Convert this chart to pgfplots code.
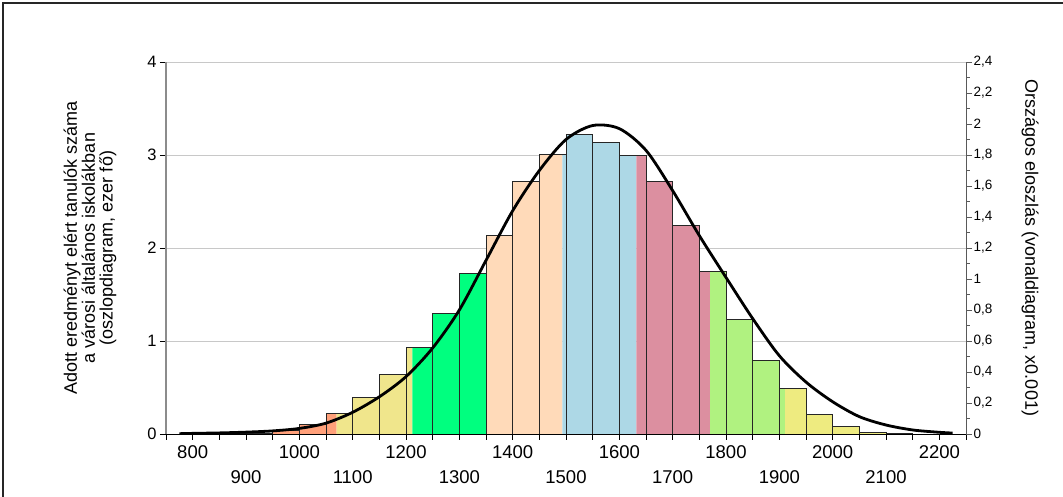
\documentclass[border=0pt]{standalone}
\usepackage{fontspec}
\setmainfont{Liberation Sans}
\usepackage{pgfplots}
\usepackage{pgfplotstable}
\pgfplotsset{compat=1.18}
\usetikzlibrary{calc}

\definecolor{cSalmon}{RGB}{255,160,122}
\definecolor{cKhaki}{RGB}{240,230,140}
\definecolor{cGreen}{RGB}{0,255,127}
\definecolor{cPeach}{RGB}{255,218,185}
\definecolor{cBlue}{RGB}{173,216,230}
\definecolor{cPink}{RGB}{220,143,160}
\definecolor{cLime}{RGB}{176,242,128}
\definecolor{cYellow}{RGB}{238,235,128}
\definecolor{cGrid}{RGB}{200,200,200}

% bar centres (50 points wide), thousand pupils
\pgfplotstableread{
x y
825 0.003
875 0.005
925 0.008
975 0.035
1025 0.10
1075 0.22
1125 0.39
1175 0.64
1225 0.93
1275 1.30
1325 1.73
1375 2.13
1425 2.72
1475 3.01
1525 3.22
1575 3.13
1625 2.99
1675 2.72
1725 2.24
1775 1.75
1825 1.23
1875 0.79
1925 0.49
1975 0.21
2025 0.08
2075 0.02
2125 0.005
}\bars

% national distribution, x0.001
\pgfplotstableread{
x y
775 0.002
800 0.004
850 0.007
900 0.012
950 0.02
1000 0.036
1050 0.07
1100 0.14
1150 0.24
1200 0.37
1250 0.555
1300 0.80
1350 1.12
1400 1.44
1450 1.70
1500 1.90
1550 1.99
1600 1.97
1650 1.83
1700 1.57
1750 1.28
1800 1.01
1850 0.745
1900 0.505
1950 0.335
2000 0.208
2050 0.112
2100 0.058
2150 0.026
2200 0.011
2225 0.006
}\curve

\begin{document}
\begin{tikzpicture}
\begin{axis}[
  name=main,
  scale only axis,
  width=800pt, height=372pt,
  xmin=750, xmax=2250, ymin=0, ymax=4,
  axis x line*=bottom, axis y line*=left,
  x axis line style={black, line width=0.8pt, -},
  y axis line style={black!45, line width=1.2pt, -},
  xtick={800,1000,...,2200},
  extra x ticks={900,1100,...,2100},
  extra x tick style={xticklabel style={yshift=-25pt}},
  minor xtick={750,850,...,2250},
  ytick={0,1,2,3,4},
  ymajorgrids, grid style={cGrid, line width=0.8pt},
  tick align=outside,
  major tick length=6pt, minor tick length=6pt,
  tick style={black, line width=0.8pt},
  /pgf/number format/1000 sep={},
  /pgf/number format/assume math mode=true,
  xticklabel style={font=\fontsize{18.5}{21}\selectfont, yshift=-2pt},
  yticklabel style={font=\fontsize{16.5}{18}\selectfont},
  ylabel={Adott eredményt elért tanulók száma\\a városi általános iskolákban\\(oszlopdiagram, ezer fő)},
  ylabel style={align=center, font=\fontsize{18}{17.8}\selectfont,
    at={(axis description cs:-0.095,0.5)}, anchor=center},
]
\addplot[const plot, fill=cSalmon, draw=none] coordinates
  {(800,0.003) (850,0.005) (900,0.008) (950,0.035) (1000,0.10) (1050,0.22) (1070,0.22)} \closedcycle;
\addplot[const plot, fill=cKhaki, draw=none] coordinates
  {(1070,0.22) (1100,0.39) (1150,0.64) (1200,0.93) (1212,0.93)} \closedcycle;
\addplot[const plot, fill=cGreen, draw=none] coordinates
  {(1212,0.93) (1250,1.30) (1300,1.73) (1350,1.73)} \closedcycle;
\addplot[const plot, fill=cPeach, draw=none] coordinates
  {(1350,2.13) (1400,2.72) (1450,3.01) (1493,3.01)} \closedcycle;
\addplot[const plot, fill=cBlue, draw=none] coordinates
  {(1493,3.01) (1500,3.22) (1550,3.13) (1600,2.99) (1632,2.99)} \closedcycle;
\addplot[const plot, fill=cPink, draw=none] coordinates
  {(1632,2.99) (1650,2.72) (1700,2.24) (1750,1.75) (1770,1.75)} \closedcycle;
\addplot[const plot, fill=cLime, draw=none] coordinates
  {(1770,1.75) (1800,1.23) (1850,0.79) (1900,0.49) (1911,0.49)} \closedcycle;
\addplot[const plot, fill=cYellow, draw=none] coordinates
  {(1911,0.49) (1950,0.21) (2000,0.08) (2050,0.02) (2100,0.005) (2150,0.005)} \closedcycle;
\addplot[ybar, bar width=50, bar shift=0pt, draw=black!85, line width=0.9pt, fill=none]
  table[x=x, y=y] {\bars};
\end{axis}

\begin{axis}[
  scale only axis,
  width=800pt, height=372pt,
  xmin=750, xmax=2250, ymin=0, ymax=2.4,
  axis x line=none, axis y line*=right,
  y axis line style={black!65, line width=1pt, -},
  ytick={0,0.2,0.4,0.6,0.8,1,1.2,1.4,1.6,1.8,2,2.2,2.4},
  minor ytick={0.1,0.3,0.5,0.7,0.9,1.1,1.3,1.5,1.7,1.9,2.1,2.3},
  tick align=outside,
  major tick length=6pt, minor tick length=3.5pt,
  tick style={black!65, line width=0.8pt},
  /pgf/number format/use comma,
  /pgf/number format/1000 sep={},
  /pgf/number format/assume math mode=true,
  yticklabel style={font=\fontsize{13.5}{15}\selectfont, xshift=-2pt},
  ylabel={Országos eloszlás (vonaldiagram, x0.001)},
  ylabel style={font=\fontsize{18}{20}\selectfont,
    at={(axis description cs:1.08,0.5)}, anchor=center, rotate=180},
]
\addplot[smooth, line width=2.8pt, black] table[x=x, y=y] {\curve};
\end{axis}

\pgfresetboundingbox
\path[use as bounding box] ($(main.south west)+(-166pt,-63pt)$) rectangle ($(main.north east)+(97pt,62pt)$);
\draw[line width=1.6pt, black!85] ($(main.south west)+(-163pt,-63pt)$) -- ($(main.north west)+(-163pt,59pt)$) -- ($(main.north east)+(97pt,59pt)$);
\end{tikzpicture}
\end{document}
